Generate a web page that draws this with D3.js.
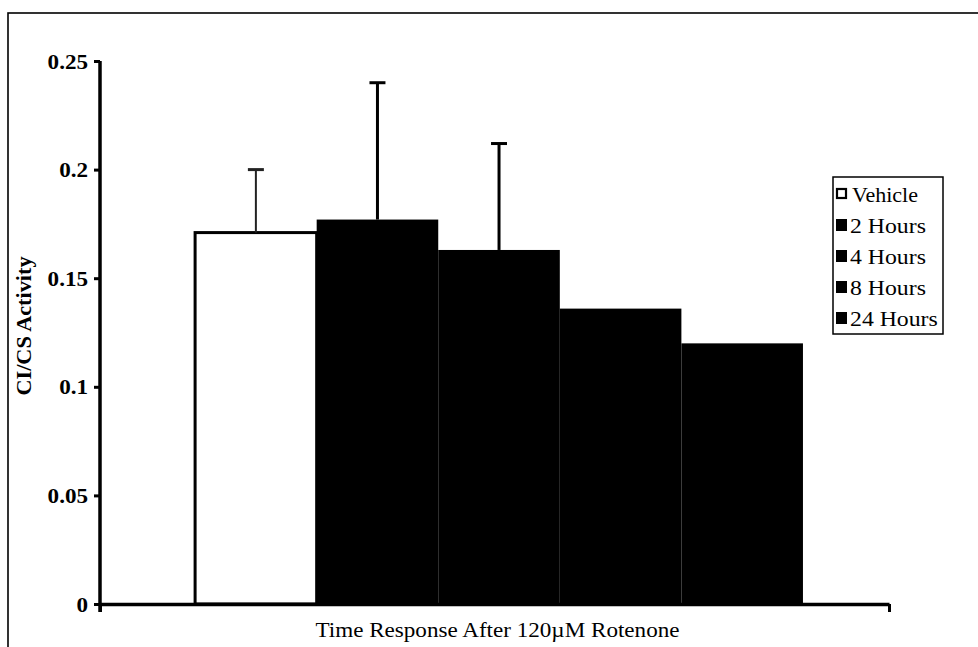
<!DOCTYPE html>
<html><head><meta charset="utf-8">
<script src="https://cdn.jsdelivr.net/npm/d3@7"></script>
<style>body{margin:0;background:#fff}svg{display:block}</style>
</head><body><svg id="c" width="978" height="647"></svg>
<script>
const categories = ["Vehicle","2 Hours","4 Hours","8 Hours","24 Hours"];
const values = [0.171, 0.177, 0.163, 0.136, 0.120];
const errors = [0.029, 0.063, 0.049, 0, 0];
const fills = ["#fff","#000","#000","#000","#000"];
const yTicks = [0, 0.05, 0.1, 0.15, 0.2, 0.25];
const yTickLabels = ["0","0.05","0.1","0.15","0.2","0.25"];
const yTitle = "CI/CS Activity";
const xTitle = "Time Response After 120\u00b5M Rotenone";

const SERIF = "'Liberation Serif','Times New Roman','DejaVu Serif',serif";
function stretch(sel, f){
  sel.each(function(){
    const L = this.getComputedTextLength();
    d3.select(this).attr("textLength", L*f).attr("lengthAdjust","spacingAndGlyphs");
  });
}

const svg = d3.select("#c");
svg.append("rect").attr("width",978).attr("height",647).attr("fill","#fff");
// outer frame
svg.append("rect").attr("x",8).attr("y",13).attr("width",1100).attr("height",1100)
  .attr("fill","none").attr("stroke","#000").attr("stroke-width",1.6);

const x0 = 100, x1 = 889, yTop = 61, yBot = 604;
const y = d3.scaleLinear().domain([0,0.25]).range([yBot,yTop]);
const x = d3.scaleBand().domain(categories).range([x0,x1]).paddingInner(0).paddingOuter(0.745).align(0.525);

// bars
const g = svg.append("g");
g.selectAll("rect.bar").data(categories).join("rect")
  .attr("x",d=>x(d)).attr("y",(d,i)=>y(values[i]))
  .attr("width",x.bandwidth()).attr("height",(d,i)=>yBot-y(values[i]))
  .attr("fill",(d,i)=>fills[i])
  .attr("stroke",(d,i)=>i===0?"#000":"none").attr("stroke-width",3);

// error bars
categories.forEach((c,i)=>{
  if(!errors[i]) return;
  const cx = x(c)+x.bandwidth()/2;
  const sw = i===0?2:3;
  const col = i===0?"#222":"#000";
  g.append("line").attr("x1",cx).attr("x2",cx).attr("y1",y(values[i])).attr("y2",y(values[i]+errors[i]))
    .attr("stroke",col).attr("stroke-width",sw);
  g.append("line").attr("x1",cx-8).attr("x2",cx+8).attr("y1",y(values[i]+errors[i])).attr("y2",y(values[i]+errors[i]))
    .attr("stroke",col).attr("stroke-width",3);
});

// y axis
const ya = svg.append("g").attr("transform",`translate(${x0},0)`)
  .call(d3.axisLeft(y).tickValues(yTicks).tickFormat((d,i)=>yTickLabels[i]).tickSize(6).tickSizeOuter(0).tickPadding(6));
ya.attr("font-family",null);
ya.select(".domain").attr("stroke","#000").attr("stroke-width",3.5).attr("d",`M0,${yTop}V${yBot+8}`);
ya.selectAll(".tick line").attr("stroke","#000").attr("stroke-width",3);
ya.selectAll(".tick text").style("font-family",SERIF).style("font-weight","bold").style("font-size","21px").attr("fill","#000").attr("dy","0.34em");
stretch(ya.selectAll(".tick text"), 1.1);

// x axis
const xs = d3.scaleLinear().domain([0,1]).range([x0,x1]);
const xa = svg.append("g").attr("transform",`translate(0,${yBot})`)
  .call(d3.axisBottom(xs).tickValues([0,1]).tickFormat("").tickSize(8).tickSizeOuter(0));
xa.select(".domain").attr("stroke","#000").attr("stroke-width",3.5);
xa.selectAll(".tick line").attr("stroke","#000").attr("stroke-width",3);

// titles
const xt = svg.append("text").attr("x",(x0+x1)/2+3).attr("y",637).attr("text-anchor","middle")
  .style("font-family",SERIF).style("font-size","21px").attr("fill","#000").text(xTitle);
stretch(xt, 1.1);
const yt = svg.append("text").attr("transform","translate(31,326) rotate(-90)").attr("text-anchor","middle")
  .style("font-family",SERIF).style("font-size","21px").style("font-weight","bold").attr("fill","#000").text(yTitle);
stretch(yt, 1.06);

// legend
const lg = svg.append("g");
lg.append("rect").attr("x",833).attr("y",177).attr("width",110).attr("height",157)
  .attr("fill","#fff").attr("stroke","#000").attr("stroke-width",1.5);
categories.forEach((c,i)=>{
  const cy = 194 + i*31;
  if(i===0){
    lg.append("rect").attr("x",837).attr("y",cy-5).attr("width",9).attr("height",9)
      .attr("fill","#fff").attr("stroke","#000").attr("stroke-width",2.2);
  } else {
    lg.append("rect").attr("x",836).attr("y",cy-6).attr("width",11).attr("height",12).attr("fill","#000");
  }
  const t = lg.append("text").attr("x",i===0?852:850).attr("y",cy).attr("dy","0.35em")
    .style("font-family",SERIF).style("font-size","22px").attr("fill","#000").text(c);
  stretch(t, i===0?1.0:1.08);
});
</script></body></html>
